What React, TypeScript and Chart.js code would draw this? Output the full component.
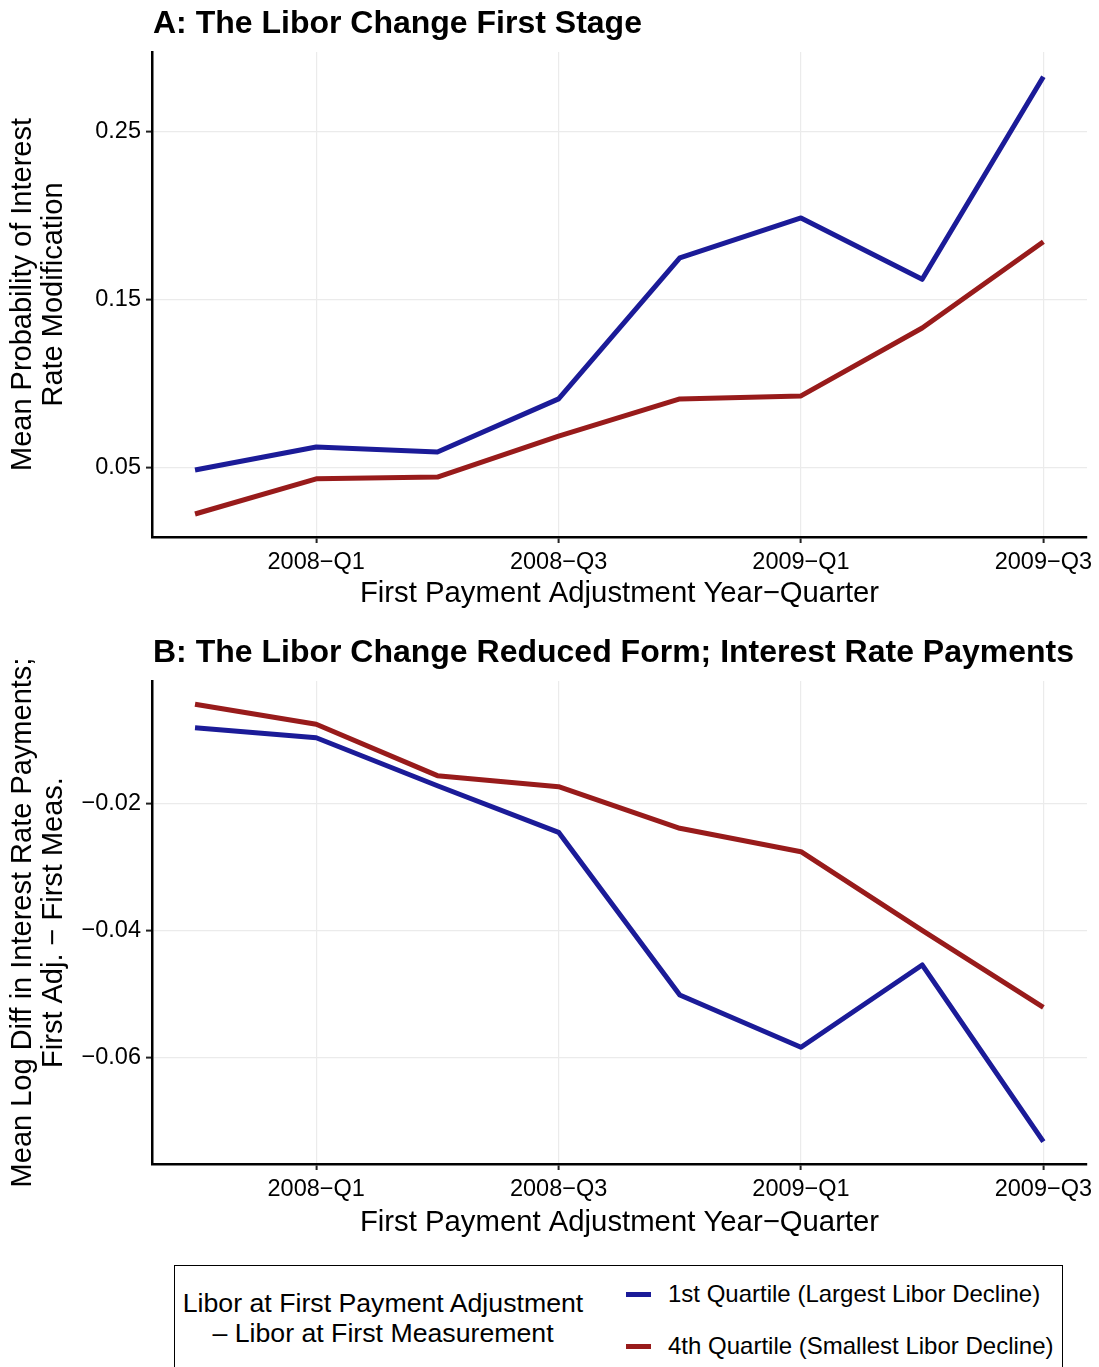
import React, { useEffect, useRef } from "react";
import { Chart, registerables } from "chart.js";

Chart.register(...registerables);

const FONT = "'Liberation Sans', Arial, Helvetica, sans-serif";

// Quarters (x categories), indices 0..7
const quarters = ["2007-Q4", "2008-Q1", "2008-Q2", "2008-Q3", "2008-Q4", "2009-Q1", "2009-Q2", "2009-Q3"];
const xTickIndex = [1, 3, 5, 7];
const xTickLabels = ["2008\u2212Q1", "2008\u2212Q3", "2009\u2212Q1", "2009\u2212Q3"];

// Series names and colours
const seriesNames = ["1st Quartile (Largest Libor Decline)", "4th Quartile (Smallest Libor Decline)"];
const seriesColors = ["#1B1B98", "#981B1B"];

// Panel A: first stage (mean probability of interest rate modification)
const stageQ1 = [0.0488, 0.0625, 0.0595, 0.0911, 0.175, 0.1988, 0.1623, 0.2829];
const stageQ4 = [0.0226, 0.0435, 0.0446, 0.069, 0.0911, 0.0929, 0.1333, 0.1847];
const stageYTicks = [0.05, 0.15, 0.25];
const stageYTickLabels = ["0.05", "0.15", "0.25"];

// Panel B: reduced form (mean log diff in interest rate payments)
const reducedQ1 = [-0.008, -0.00956, -0.01712, -0.02446, -0.05008, -0.05832, -0.04535, -0.07318];
const reducedQ4 = [-0.0043, -0.00745, -0.01554, -0.01728, -0.02383, -0.02751, -0.0399, -0.05202];
const reducedYTicks = [-0.06, -0.04, -0.02];
const reducedYTickLabels = ["\u22120.06", "\u22120.04", "\u22120.02"];

const xTitle = "First Payment Adjustment Year\u2212Quarter";

type PanelProps = {
  top: number;
  height: number;
  xAxisHeight: number;
  title: string;
  yTitle: string[];
  q1: number[];
  q4: number[];
  yMin: number;
  yMax: number;
  yTicks: number[];
  yTickLabels: string[];
};

function Panel(p: PanelProps) {
  const ref = useRef<HTMLCanvasElement>(null);
  useEffect(() => {
    const mk = (vals: number[], i: number) => ({
      label: seriesNames[i],
      data: vals.map((y, k) => ({ x: k, y })),
      borderColor: seriesColors[i],
      backgroundColor: seriesColors[i],
      borderWidth: 5,
      pointRadius: 0,
      pointHoverRadius: 0,
      tension: 0,
      fill: false,
      borderJoinStyle: "round" as const,
    });
    const chart = new Chart(ref.current!, {
      type: "line",
      data: { datasets: [mk(p.q4, 1), mk(p.q1, 0)] },
      options: {
        animation: false,
        responsive: false,
        layout: { padding: { top: 52, right: 12, left: 0, bottom: 0 } },
        plugins: {
          legend: { display: false },
          title: { display: false },
          tooltip: { enabled: false },
        },
        scales: {
          x: {
            type: "linear",
            bounds: "data",
            min: -0.355,
            max: 7.36,
            afterBuildTicks: (s: any) => {
              s.ticks = xTickIndex.map((v) => ({ value: v }));
            },
            afterFit: (s: any) => {
              s.height = p.xAxisHeight;
              s.paddingLeft = 0;
              s.paddingRight = 0;
            },
            ticks: {
              callback: (_v: any, i: number) => xTickLabels[i],
              font: { size: 23.5, family: FONT },
              color: "#000",
              padding: 5,
              maxRotation: 0,
              autoSkip: false,
            },
            grid: { color: "#EBEBEB", lineWidth: 1.2, tickColor: "#222", tickWidth: 2, tickLength: 6 },
            border: { display: true, color: "#000", width: 2.5 },
            title: {
              display: true,
              text: xTitle,
              font: { size: 29.3, family: FONT },
              color: "#000",
              padding: { top: 0, bottom: 1 },
            },
          },
          y: {
            type: "linear",
            bounds: "data",
            min: p.yMin,
            max: p.yMax,
            afterBuildTicks: (s: any) => {
              s.ticks = p.yTicks.map((v) => ({ value: v }));
            },
            afterFit: (s: any) => {
              s.width = 152;
              s.paddingTop = 0;
              s.paddingBottom = 0;
            },
            ticks: {
              callback: (_v: any, i: number) => p.yTickLabels[i],
              font: { size: 23.5, family: FONT },
              color: "#000",
              padding: 5,
              autoSkip: false,
            },
            grid: { color: "#EBEBEB", lineWidth: 1.2, tickColor: "#222", tickWidth: 2, tickLength: 6 },
            border: { display: true, color: "#000", width: 2.5 },
            title: {
              display: true,
              text: p.yTitle,
              font: { size: 29, family: FONT, lineHeight: 1.07 },
              color: "#000",
              padding: { top: 7, bottom: 0 },
            },
          },
        },
      } as any,
    });
    return () => chart.destroy();
  }, []);
  return (
    <div style={{ position: "absolute", left: 0, top: p.top, width: 1099, height: p.height }}>
      <canvas ref={ref} width={1099} height={p.height} style={{ width: 1099, height: p.height, display: "block" }} />
      <div
        style={{
          position: "absolute",
          left: 153,
          top: 5,
          fontFamily: FONT,
          fontWeight: "bold",
          fontSize: 32,
          lineHeight: "34px",
          color: "#000",
          whiteSpace: "nowrap",
        }}
      >
        {p.title}
      </div>
    </div>
  );
}

function Legend() {
  return (
    <div
      style={{
        position: "absolute",
        left: 174,
        top: 1265,
        width: 889,
        height: 140,
        border: "1.5px solid #000",
        boxSizing: "border-box",
        fontFamily: FONT,
        color: "#000",
      }}
    >
      <div
        style={{
          position: "absolute",
          left: 0,
          width: 416,
          top: 22,
          textAlign: "center",
          fontSize: 26.7,
          lineHeight: "30px",
          whiteSpace: "nowrap",
        }}
      >
        <div>Libor at First Payment Adjustment</div>
        <div>{"\u2013 Libor at First Measurement"}</div>
      </div>
      {seriesNames.map((name, i) => (
        <div key={name}>
          <div
            style={{
              position: "absolute",
              left: 451,
              top: (i === 0 ? 28 : 80) - 2.5,
              width: 25,
              height: 5,
              background: seriesColors[i],
            }}
          />
          <div
            style={{
              position: "absolute",
              left: 493,
              top: (i === 0 ? 28 : 80) - 15,
              fontSize: 24,
              lineHeight: "30px",
              whiteSpace: "nowrap",
            }}
          >
            {name}
          </div>
        </div>
      ))}
    </div>
  );
}

export default function App() {
  return (
    <div
      style={{
        position: "absolute",
        left: 0,
        top: 0,
        width: 1099,
        height: 1367,
        overflow: "hidden",
        background: "#fff",
      }}
    >
      <Panel
        top={0}
        height={612}
        xAxisHeight={75}
        title="A: The Libor Change First Stage"
        yTitle={["Mean Probability of Interest", "Rate Modification"]}
        q1={stageQ1}
        q4={stageQ4}
        yMin={0.0089}
        yMax={0.2976}
        yTicks={stageYTicks}
        yTickLabels={stageYTickLabels}
      />
      <Panel
        top={629}
        height={612}
        xAxisHeight={77}
        title="B: The Libor Change Reduced Form; Interest Rate Payments"
        yTitle={["Mean Log Diff in Interest Rate Payments;", "First Adj. \u2212 First Meas."]}
        q1={reducedQ1}
        q4={reducedQ4}
        yMin={-0.0767}
        yMax={-0.00063}
        yTicks={reducedYTicks}
        yTickLabels={reducedYTickLabels}
      />
      <Legend />
    </div>
  );
}
